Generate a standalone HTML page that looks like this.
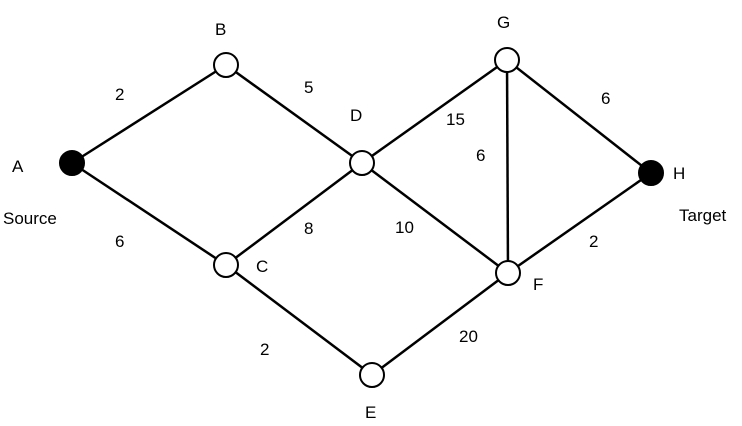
<!DOCTYPE html>
<html><head><meta charset="utf-8"><style>html,body{margin:0;padding:0;background:#fff}</style></head>
<body>
<svg width="742" height="426" xmlns="http://www.w3.org/2000/svg" style="display:block">
<g stroke="#000" stroke-width="2.5" fill="none">
<line x1="72" y1="163" x2="226" y2="65"/>
<line x1="72" y1="163" x2="226" y2="265"/>
<line x1="226" y1="65" x2="362" y2="163"/>
<line x1="226" y1="265" x2="362" y2="163"/>
<line x1="226" y1="265" x2="372" y2="375"/>
<line x1="362" y1="163" x2="507" y2="60"/>
<line x1="362" y1="163" x2="508" y2="273"/>
<line x1="507" y1="60" x2="508" y2="273"/>
<line x1="507" y1="60" x2="651" y2="173"/>
<line x1="508" y1="273" x2="651" y2="173"/>
<line x1="372" y1="375" x2="508" y2="273"/>
</g>
<g stroke="#000" stroke-width="2" fill="#fff">
<ellipse cx="226" cy="65" rx="12" ry="12"/>
<ellipse cx="362" cy="163" rx="12" ry="12"/>
<ellipse cx="226" cy="265" rx="12" ry="12"/>
<ellipse cx="372" cy="375" rx="12" ry="12"/>
<ellipse cx="508" cy="273" rx="12" ry="12"/>
<ellipse cx="507" cy="60" rx="12" ry="12"/>
<ellipse cx="72" cy="163" rx="12" ry="12" fill="#000"/>
<ellipse cx="651" cy="173" rx="12" ry="12" fill="#000"/>
</g>
<g font-family="Liberation Sans Narrow, Liberation Sans, sans-serif" font-size="17" fill="#000">
<text x="215" y="35">B</text>
<text x="497" y="28">G</text>
<text x="350" y="121">D</text>
<text x="12" y="172">A</text>
<text x="673" y="179">H</text>
<text x="3" y="224">Source</text>
<text x="679" y="221">Target</text>
<text x="256" y="272">C</text>
<text x="533" y="290">F</text>
<text x="365" y="418">E</text>
<text x="115" y="100">2</text>
<text x="304" y="93">5</text>
<text x="446" y="125">15</text>
<text x="476" y="161">6</text>
<text x="601" y="104">6</text>
<text x="115" y="247">6</text>
<text x="304" y="234">8</text>
<text x="395" y="233">10</text>
<text x="589" y="247">2</text>
<text x="260" y="355">2</text>
<text x="459" y="342">20</text>
</g>
</svg>
</body></html>
